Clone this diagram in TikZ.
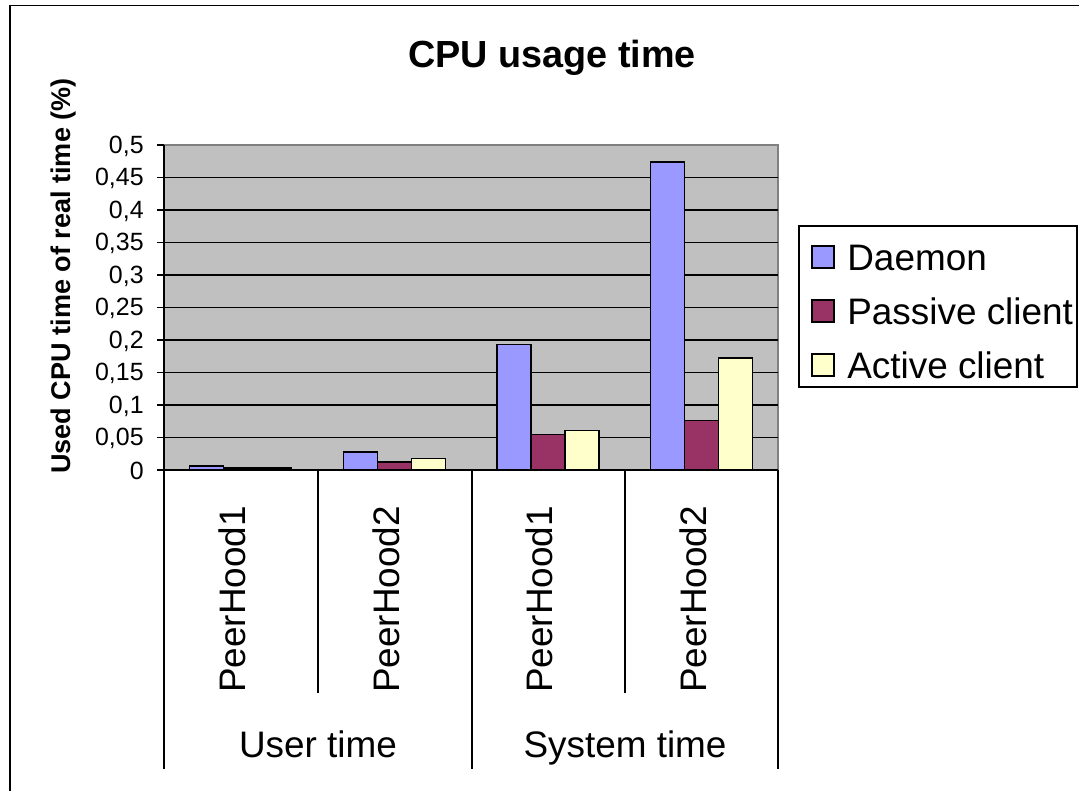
\documentclass[tikz,border=0pt]{standalone}
\usepackage{fontspec}
\setmainfont{Liberation Sans}
\usepackage{xcolor}
\definecolor{daemon}{HTML}{9999FF}
\definecolor{passive}{HTML}{993366}
\definecolor{active}{HTML}{FFFFCC}
\definecolor{plotbg}{HTML}{C0C0C0}
\definecolor{plotedge}{HTML}{808080}

\begin{document}
\begin{tikzpicture}[x=0.02cm,y=-0.02cm,
    bar/.style={draw=black,line width=0.85pt},
    axisline/.style={line width=0.9pt},
    lab/.style={font=\fontsize{21}{25}\selectfont,inner sep=0pt},
    ticklab/.style={font=\fontsize{14.2}{16}\selectfont,inner sep=0pt}]
    \useasboundingbox (0,0) rectangle (1079,791);

    % Chart frame (only top and left edges are visible)
    \draw[line width=1.1pt] (10,791) -- (10,5.5) -- (1079,5.5);

    % Title
    \node[anchor=base,font=\fontsize{21.5}{26}\selectfont\bfseries,inner sep=0pt] (title) at (552,67) {CPU usage time};

    % Plot area
    \fill[plotbg] (164,145) rectangle (778,470);
    \draw[plotedge,line width=0.6pt] (164,145) -- (778,145) -- (778,470);

    % Grid lines and value ticks
    \foreach \k in {1,...,9}
      \draw[axisline] (164,470-32.5*\k) -- (778,470-32.5*\k);
    \foreach \k/\lab in {0/{0},1/{0,05},2/{0,1},3/{0,15},4/{0,2},5/{0,25},6/{0,3},7/{0,35},8/{0,4},9/{0,45},10/{0,5}}{
      \draw[axisline] (157,470-32.5*\k) -- (164,470-32.5*\k);
      \node[ticklab,anchor=east] (tick\k) at (144,471-32.5*\k) {\lab};
    }

    % Bars: daemon / passive client / active client
    \foreach \i/\d/\p/\a in {0/0.006/0.003/0.003, 1/0.028/0.012/0.018,
                             2/0.193/0.055/0.061, 3/0.474/0.076/0.172}{
      \pgfmathsetmacro\bx{164+153.5*\i+25.75}
      \draw[bar,fill=daemon] (\bx,470) rectangle ++(34,-650*\d);
      \draw[bar,fill=passive] (\bx+34,470) rectangle ++(34,-650*\p);
      \draw[bar,fill=active] (\bx+68,470) rectangle ++(34,-650*\a);
    }

    % Axes
    \draw[axisline] (164,145) -- (164,769);
    \draw[axisline] (164,470) -- (778,470);
    \draw[axisline] (318,470) -- (318,693);
    \draw[axisline] (625,470) -- (625,693);
    \draw[axisline] (472,470) -- (472,769);
    \draw[axisline] (778,470) -- (778,769);

    % Category labels
    \node[lab,rotate=90,anchor=mid west] (ut1) at (241,693) {PeerHood1};
    \node[lab,rotate=90,anchor=mid west] (ut2) at (395,693) {PeerHood2};
    \node[lab,rotate=90,anchor=mid west] (st1) at (548,693) {PeerHood1};
    \node[lab,rotate=90,anchor=mid west] (st2) at (702,693) {PeerHood2};
    \node[lab,anchor=base] (user) at (318,757) {User time};
    \node[lab,anchor=base] (system) at (625,757) {System time};

    % Value axis title
    \node[rotate=90,anchor=base,inner sep=0pt,font=\fontsize{15.4}{18}\selectfont\bfseries] (ytitle) at (71,276) {Used CPU time of real time (\%)};

    % Legend
    \node[draw,line width=0.9pt,minimum width=5.56cm,minimum height=3.22cm,inner sep=0pt] (legend) at (938,306.5) {};
    \draw[bar,fill=daemon] (812,246) rectangle (834,268);
    \draw[bar,fill=passive] (812,300) rectangle (834,322);
    \draw[bar,fill=active] (812,354) rectangle (834,376);
    \node[lab,anchor=base west] (legdaemon) at (847,270) {Daemon};
    \node[lab,anchor=base west] (legpassive) at (847,324) {Passive client};
    \node[lab,anchor=base west] (legactive) at (847,378) {Active client};
\end{tikzpicture}
\end{document}
